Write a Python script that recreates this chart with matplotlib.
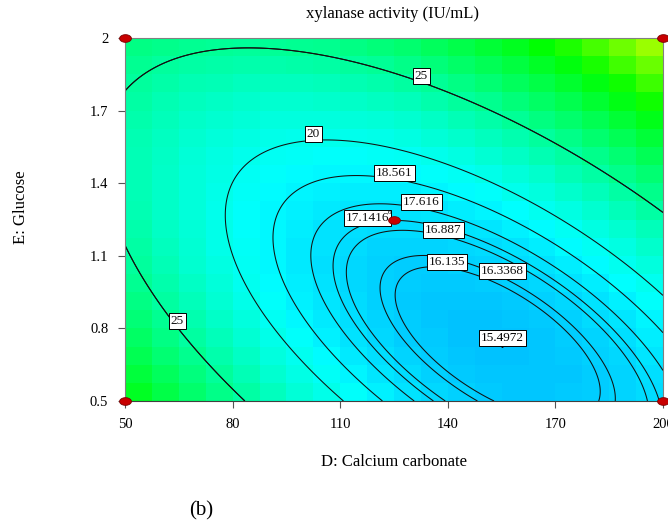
import numpy as np
import matplotlib
matplotlib.use("Agg")
import matplotlib.pyplot as plt
from matplotlib.colors import LinearSegmentedColormap
from matplotlib.path import Path

# quadratic response model in coded factors (A = D, B = E)
# order: intercept, A, B, AB, A^2, B^2
coef = [17.1658, 0.0398, 4.9161, 8.2822, 7.2761, 5.9441]
d_range = [50, 200]
e_range = [0.5, 2]

x_ticks = [50, 80, 110, 140, 170, 200]
x_tick_labels = ["50", "80", "110", "140", "170", "200"]
y_ticks = [0.5, 0.8, 1.1, 1.4, 1.7, 2]
y_tick_labels = ["0.5", "0.8", "1.1", "1.4", "1.7", "2"]

# contour levels and where their labels sit
levels = [16.135, 16.3368, 16.887, 17.1416, 17.616, 18.561, 20, 25, 25]
level_text = ["16.135", "16.3368", "16.887", "17.1416", "17.616", "18.561", "20", "25", "25"]
label_d = [139.7, 155.2, 138.7, 117.5, 132.4, 125, 102.5, 132.4, 64.7]
label_e = [1.048, 1.011, 1.179, 1.235, 1.282, 1.406, 1.565, 1.81, 0.807]

# design points and flag
design_d = [50, 200, 50, 200, 125]
design_e = [2, 2, 0.5, 0.5, 1.25]
center_reps = "6"
flag_d, flag_e, flag_text = 155.2, 0.723, "15.4972"


def model(d, e):
    a = (d - 125) / 75
    b = (e - 1.25) / 0.75
    return (coef[0] + coef[1] * a + coef[2] * b + coef[3] * a * b
            + coef[4] * a ** 2 + coef[5] * b ** 2)


# blue -> cyan -> green -> yellow -> red, as in Design-Expert
vmin, vmax = 4, 58
cmap = LinearSegmentedColormap.from_list(
    "de", [(0, (0, 0, 1)), (15 / 54, (0, 1, 1)), (30 / 54, (0, 1, 0)),
           (42 / 54, (1, 1, 0)), (1, (1, 0, 0))])

plt.rcParams["font.family"] = ["Liberation Serif", "DejaVu Serif"]
fig = plt.figure(figsize=(6.68, 5.21), dpi=100)
ax = fig.add_axes([125 / 668, 120 / 521, 538 / 668, 363 / 521])

# blocky colour map, 20 x 20 cells
de = np.linspace(d_range[0], d_range[1], 21)
ee = np.linspace(e_range[0], e_range[1], 21)
DC, EC = np.meshgrid((de[:-1] + de[1:]) / 2, (ee[:-1] + ee[1:]) / 2)
ax.pcolormesh(de, ee, model(DC, EC), cmap=cmap, vmin=vmin, vmax=vmax, shading="flat")

dd, eg = np.meshgrid(np.linspace(d_range[0], d_range[1], 300),
                     np.linspace(e_range[0], e_range[1], 300))
zz = model(dd, eg)
for lev, txt, ld, le in zip(levels, level_text, label_d, label_e):
    cs = ax.contour(dd, eg, zz, levels=[lev], colors="#111111", linewidths=0.75)
    labels = cs.clabel(manual=[(ld, le)], fmt={lev: txt}, inline=False, fontsize=9.5)
    for t in labels:
        t.set_rotation(0)
        t.set_verticalalignment("bottom")
        t.set_bbox(dict(facecolor="white", edgecolor="black", linewidth=0.7, pad=1.4))
        t.set_zorder(5)

# flag with predicted value
ax.plot(flag_d, flag_e, marker=7, color="black", markersize=3, zorder=5)
ax.annotate(flag_text, (flag_d, flag_e), xytext=(0, 2), textcoords="offset points",
            ha="center", va="bottom", fontsize=9.5, zorder=6,
            bbox=dict(facecolor="white", edgecolor="black", linewidth=0.7, pad=1.4))

# design points as flat red ellipses
t = np.linspace(0, 2 * np.pi, 40)
ellipse = Path(np.column_stack([np.cos(t), 0.65 * np.sin(t)]))
ax.plot(design_d, design_e, linestyle="none", marker=ellipse, markersize=8.5,
        markerfacecolor="#c80000", markeredgecolor="#7a0000", markeredgewidth=0.6,
        clip_on=False, zorder=7)
ax.annotate(center_reps, (design_d[-1], design_e[-1]), xytext=(-3, 3),
            textcoords="offset points", fontsize=5, ha="center", va="bottom", zorder=6)

ax.set_xlim(d_range)
ax.set_ylim(e_range)
ax.set_xticks(x_ticks, x_tick_labels)
ax.set_yticks(y_ticks, y_tick_labels)
ax.tick_params(direction="out", length=5, width=0.8, color="#555555", labelsize=10.5,
               pad=7, labelcolor="black")
for side in ["left", "top", "right"]:
    ax.spines[side].set_color("#808080")
ax.spines["bottom"].set_color("#404040")

ax.set_xlabel("D: Calcium carbonate", fontsize=12, va="center")
ax.xaxis.set_label_coords(0.5, -61 / 363)
ax.set_ylabel("E: Glucose", fontsize=12, va="center")
ax.yaxis.set_label_coords(-104 / 538, 194 / 363)

fig.text(392 / 668, 1 - 14 / 521, "xylanase activity (IU/mL)", fontsize=12,
         ha="center", va="center")
fig.text(201 / 668, 1 - 511 / 521, "(b)", fontsize=15, ha="center", va="center")

plt.savefig("out.png")
